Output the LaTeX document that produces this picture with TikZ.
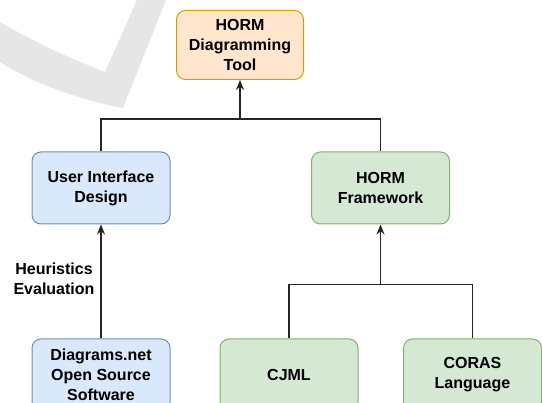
\documentclass[tikz,border=0pt]{standalone}
\usepackage{fontspec}
\setmainfont{Liberation Sans}
\usetikzlibrary{arrows.meta}
\definecolor{toolfill}{HTML}{FFE6CC}
\definecolor{toolline}{HTML}{D79B00}
\definecolor{uifill}{HTML}{DAE8FC}
\definecolor{uiline}{HTML}{6C8EBF}
\definecolor{fwfill}{HTML}{D5E8D4}
\definecolor{fwline}{HTML}{82B366}
\definecolor{markgray}{HTML}{E6E6E6}
\tikzset{
	box/.style={draw, rounded corners=9pt, line width=1pt, align=center, inner sep=0pt,
		font=\bfseries\fontsize{16}{20}\selectfont, minimum width=138pt, minimum height=72pt},
	orangebox/.style={box, fill=toolfill, draw=toolline},
	bluebox/.style={box, fill=uifill, draw=uiline},
	greenbox/.style={box, fill=fwfill, draw=fwline},
	link/.style={line width=1.1pt, draw=black!85},
	up/.style={link, -{Stealth[length=10pt,width=8pt]}},
}

\begin{document}
\begin{tikzpicture}[x=1pt,y=-1pt]
\useasboundingbox[fill=white] (0,0) rectangle (542,403);
% faint tick in the top left corner
\fill[markgray] (0,22) .. controls (40,46) and (80,62) .. (105,72) -- (137,0) -- (166,0)
	-- (123,108) .. controls (80,100) and (30,82) .. (0,62) -- cycle;

% boxes
\node[orangebox, minimum width=127pt, minimum height=69pt] (tool) at (240,45) {HORM\\Diagramming\\Tool};
\node[bluebox] (ui) at (101,188) {User Interface\\Design};
\node[greenbox] (fw) at (380.5,188) {HORM\\Framework};
\node[bluebox] (dnet) at (101,375) {Diagrams.net\\Open Source\\Software};
\node[greenbox] (cjml) at (289,375) {CJML};
\node[greenbox] (coras) at (472.5,375) {CORAS\\Language};

% joins of the two trees
\coordinate (topjoin) at (240,119);
\coordinate (botjoin) at (380.5,284.5);

\draw[link] (ui.north) |- (topjoin) -| (fw.north);
\draw[up] (topjoin) -- (tool.south);
\draw[link] (cjml.north) |- (botjoin) -| (coras.north);
\draw[up] (botjoin) -- (fw.south);
\draw[up] (dnet.north) -- node[left, xshift=-6pt, yshift=3pt, align=center, inner sep=0pt,
	font=\bfseries\fontsize{16}{20}\selectfont] (heur) {Heuristics\\Evaluation} (ui.south);
\end{tikzpicture}
\end{document}
